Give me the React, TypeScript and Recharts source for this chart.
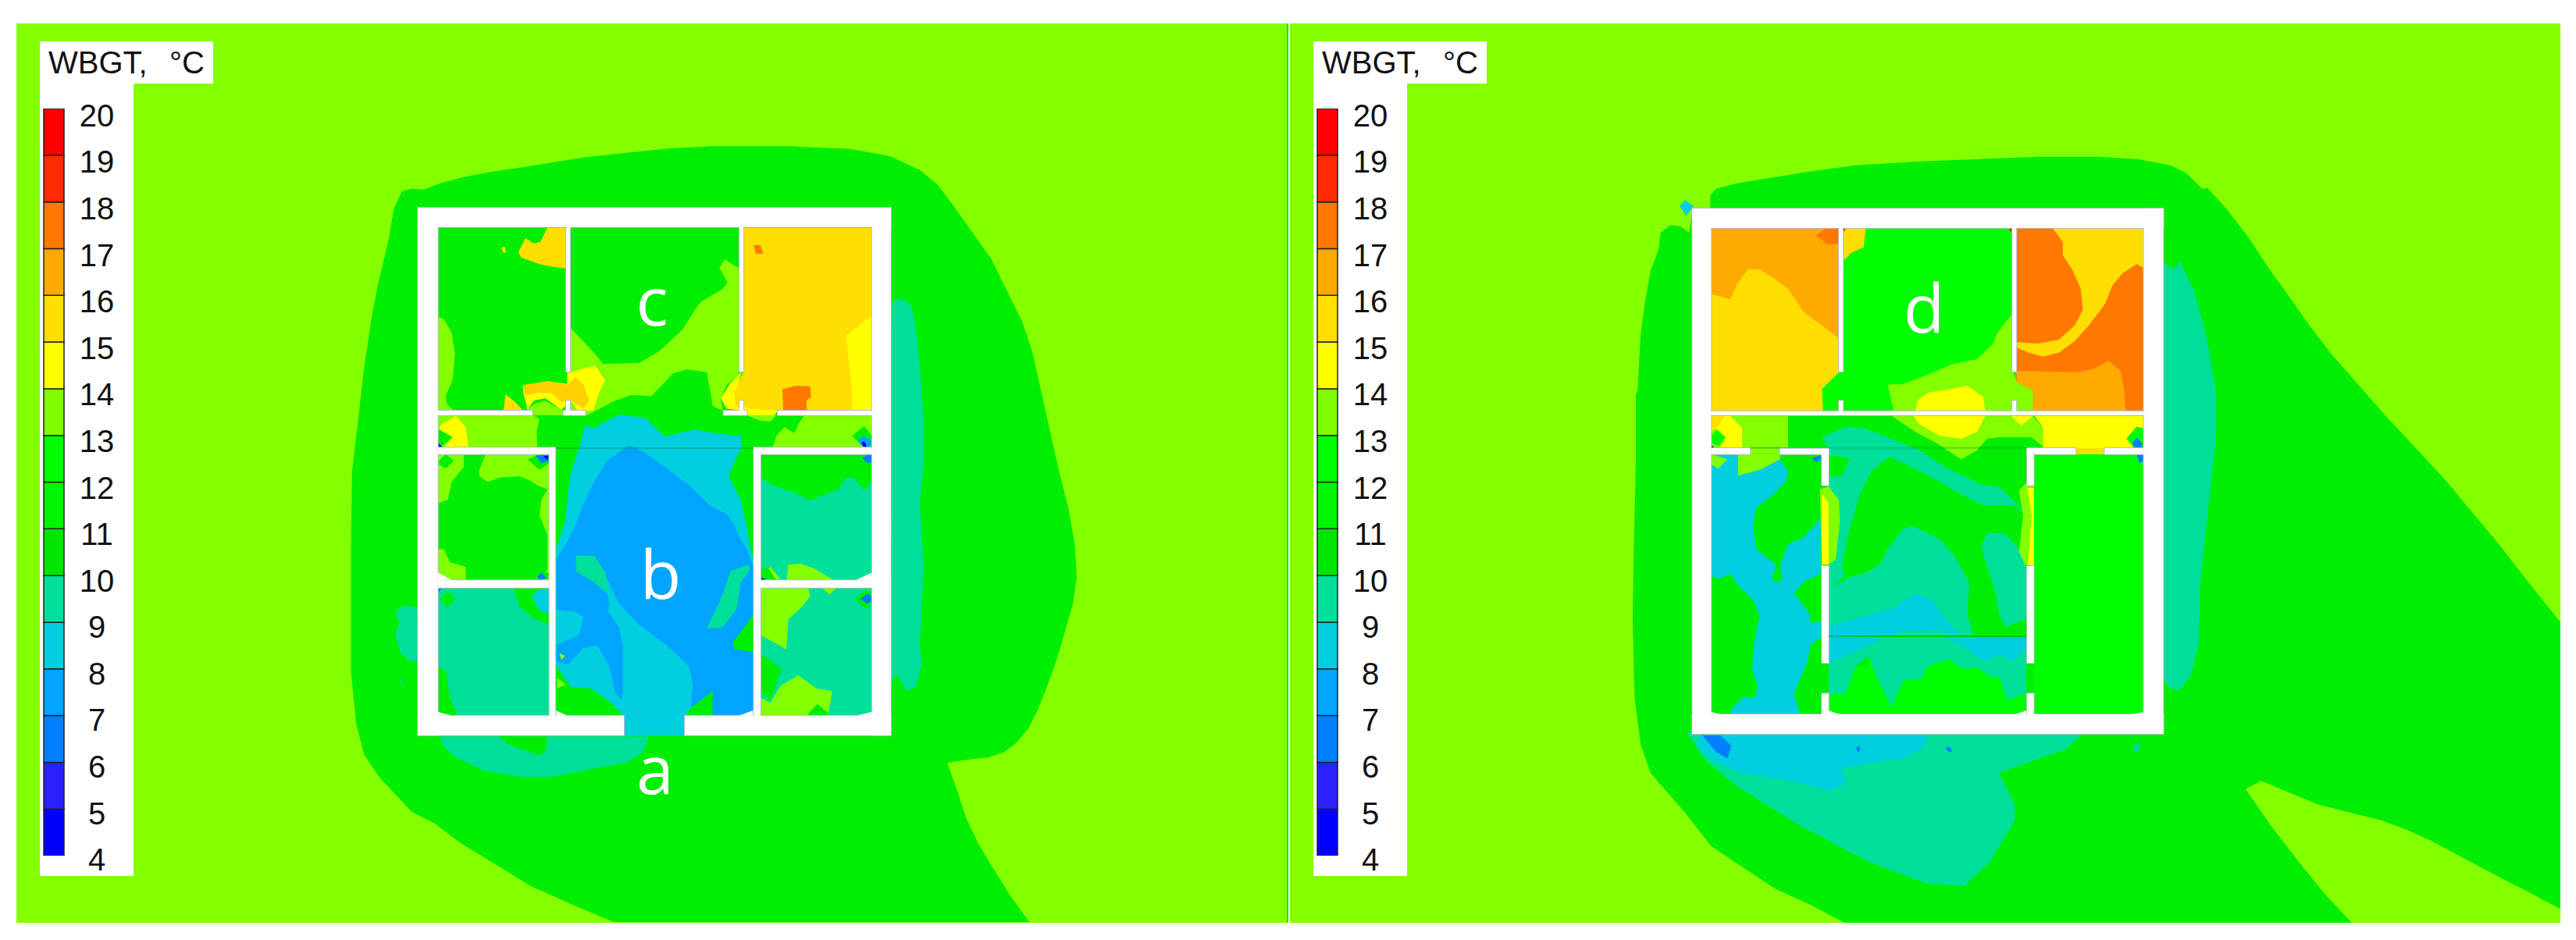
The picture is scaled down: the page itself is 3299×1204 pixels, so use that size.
import { BarChart, Bar, XAxis, YAxis, ScatterChart, Scatter } from 'recharts';

// WBGT levels, bottom to top of the colour bar
const levelTicks = [4, 5, 6, 7, 8, 9, 10, 11, 12, 13, 14, 15, 16, 17, 18, 19, 20];
const levelColors = [
  '#0000FF', '#2A20FF', '#0080FF', '#00A5FF', '#00CFE0', '#00E09A', '#00E600', '#00F500',
  '#00FF00', '#80FF00', '#FFFF00', '#FFDF00', '#FFAA00', '#FF7800', '#FF2A00', '#FF0000',
];
const legendRow = [{ base: 4, ...Object.fromEntries(levelColors.map((_, i) => [`l${i}`, 1])) }];

const LG = '#84FF00';
const DG = '#00EE00';
const BG = '#00FF00';
const TEAL = '#00E09A';
const CYAN = '#00CFE0';
const BLUE = '#00A5FF';
const B7 = '#0080FF';
const B5 = '#0000FF';
const YEL = '#FFFF00';
const C16 = '#FFDF00';
const C17 = '#FFAA00';
const C18 = '#FF7800';
const RED = '#FF0000';
const WHITE = '#FFFFFF';

const crop = (x0: number, y0: number, sx: number, sy: number) => (flat: number[]) => {
  const out: { x: number; y: number }[] = [];
  for (let i = 0; i < flat.length; i += 2) out.push({ x: x0 + flat[i] / sx, y: y0 + flat[i + 1] / sy });
  return out;
};
const lTop = crop(400, 170, 1.96, 3);
const lLow = crop(400, 560, 1.96, 3);
const lFull = crop(400, 150, 1.2544, 1.4933);
const rTop = crop(2050, 170, 1.96, 3);
const rLow = crop(2050, 560, 1.96, 3);
const rFull = crop(2030, 150, 1.2356, 1.4877);
const box = (a: number, b: number, c: number, d: number) => [a, b, c, b, c, d, a, d];

type Layer = [string, { x: number; y: number }[]];

// ---------- left panel ----------
const leftBlobTop = [100,1300,115,1100,130,900,150,700,165,580,190,420,205,290,225,225,250,215,280,218,320,195,380,170,450,150,540,130,600,115,680,95,800,75,900,60,1000,52,1200,52,1350,62,1450,90,1520,140];
const leftBlobEast = [975,100,1005,130,1030,170,1060,220,1090,270,1115,330,1140,390,1157,450,1170,520,1185,600,1200,680,1215,750,1225,820,1228,880,1222,930,1210,980,1195,1040,1180,1090,1165,1135,1150,1170,1130,1198,1110,1215,1085,1225,1060,1228,1020,1235,1035,1285,1050,1340,1070,1390,1090,1430,1120,1487,1152,1540,485,1540,415,1505,350,1470,295,1430,240,1390,195,1350];
const leftBlobWest = [250,1440,170,1310,130,1220,110,1100,97,900,97,400,100,100];
const leftTealEast = [1455,-510,1465,-532,1490,-525,1505,-500,1515,-410,1525,-270,1535,-70,1535,100,1525,250,1535,500,1525,800,1530,870,1515,960,1490,975,1470,915,1452,935];
const leftTealWest = [210,670,230,645,262,655,265,860,245,860,222,830,208,760,218,710];
const leftTealSliver = [215,930,222,932,245,975];
const leftTealSouth = [320,1150,845,1150,830,1210,790,1250,700,1275,600,1305,520,1305,430,1280,360,1230,330,1190];
const leftNotchSouth = [470,1150,590,1150,585,1210,565,1222,510,1190,490,1180];

const nwOrange = [590,365,637,365,637,522,605,515,570,505,525,480,517,460,535,405,555,425,572,420,580,395];
const nwSpot = [475,440,483,438,487,460,478,460];
const nwLight = [315,708,330,715,350,770,358,850,352,950,335,1010,337,1040,355,1068,315,1068];
const nwFoot = [480,1068,485,1005,505,1030,530,1068];
const cLight = [648,750,680,800,715,860,730,888,820,885,870,840,930,755,960,680,975,650,1030,600,1042,575,1022,520,1035,487,1072,522,1072,930,1040,970,1025,1020,1030,1068,1005,1050,990,920,940,910,905,925,852,1012,800,1008,760,1030,690,1085,640,1085,640,918,648,918];
const doorLight = [535,1068,560,1040,585,1030,625,1065,640,1085,550,1085];
const doorYellow = [530,1000,528,975,590,955,640,965,640,925,680,905,710,895,735,950,720,1000,705,1068,665,1068,650,1030,625,1065,585,1020,555,1030,540,1065];
const doorOrange = [528,970,590,955,640,968,660,940,680,965,695,1030,680,1060,650,1030,625,1035,600,1000,560,1000,535,1010];
const neRoom = box(1082, 365, 1405, 1068);
const neYellow = [1405,705,1385,725,1340,780,1355,1000,1355,1068,1405,1068];
const neHot = [1180,985,1215,972,1250,975,1252,1015,1240,1030,1242,1068,1182,1068];
const neSpot = [1108,432,1125,432,1132,465,1113,465];
const neDoorYellow = [1078,918,1048,965,1025,1020,1040,1060,1090,1070,1090,1085,1130,1095,1155,1095,1168,1068,1090,1060,1060,1020];
const neDoorOrange = [1082,918,1060,1000,1062,1050,1082,1068];
const hallWest = [315,1085,555,1085,570,1100,563,1150,565,1210,315,1210];
const hallWestYellow = [360,1088,385,1130,392,1210,330,1210,352,1170,318,1140,325,1120];
const hallWestDiamond = [318,1140,352,1170,325,1205,315,1190];
const hallWestBlue = [315,1190,330,1212,315,1212];
const hallEast = [1235,1085,1405,1085,1405,1210,1155,1210,1165,1165,1185,1130,1210,1155,1220,1120];
const hallEastDiamond = [1355,1165,1385,1128,1405,1165,1405,1210,1385,1212];
const hallEastBlue = [1368,1180,1385,1165,1405,1185,1398,1210,1385,1212];
const hallEastDeep = [1378,1192,1385,1185,1392,1205,1385,1210];
const hallDoorLight = [1090,1085,1165,1085,1150,1110,1120,1105];

const bCyan = [685,-45,705,-35,770,-87,835,-75,885,-2,960,-30,1010,-15,1075,-5,1078,40,1060,90,1045,150,1075,240,1090,340,1100,430,1108,470,1108,680,1055,790,1060,815,1108,825,1108,1070,1005,1070,1005,975,950,1040,935,1070,935,1145,782,1145,782,1070,750,1020,700,965,650,960,612,880,612,430,635,320,640,230,650,130,670,40];
const bBlue = [795,30,830,55,890,120,950,190,1000,265,1040,295,1060,340,1070,380,1090,430,1100,470,1108,500,1108,680,1055,790,1060,815,1108,825,1108,1070,1005,1070,1005,975,950,1040,955,950,945,880,890,800,820,720,770,640,735,530,705,455,662,455,662,515,700,550,740,600,745,640,742,670,770,730,780,800,780,980,775,1010,760,980,745,880,715,800,680,810,650,860,640,875,612,860,612,800,640,780,670,760,680,690,660,670,612,662,612,470,640,400,660,340,680,260,700,190,740,90];
const bTealEast = [1050,515,1095,490,1098,510,1075,560,1065,660,1030,730,990,735,1020,640,1040,560];
const bTealWest = [662,455,708,455,735,520,745,600,700,550,662,515];
const bSpotA = [615,925,635,950,615,965];
const bSpotB = [620,830,635,840,625,855];

const swUpperRoom = box(315, 65, 595, 550);
const swUpperDark = [380,65,435,65,418,130,420,150,440,172,470,155,520,150,545,165,565,185,590,200,575,240,570,300,590,375,590,510,560,540,590,550,385,550,385,498,345,480,330,430,315,430,315,255,340,240,350,170,380,115];
const swDiamondA = [318,90,335,65,355,90,335,120,318,105];
const swDiamondB = [540,85,570,65,595,65,595,100,570,125];
const swBlueB = [560,70,595,68,595,90,575,100];
const swDeepB = [580,72,593,72,590,88];
const swDiamondC = [548,525,570,505,595,525,590,550,560,550];
const swBlueC = [565,535,575,520,588,540,570,550];
const swLowerRoom = box(315, 580, 595, 1070);
const swLowerDark = [505,580,595,580,595,720,560,700,520,650];
const swLowerCyan = [550,610,570,585,595,585,595,680,570,665];
const swLowerDiamond = [320,620,340,592,360,620,340,655];
const swLowerBlue = [315,600,325,582,315,580];
const swLowerCorner = [315,880,335,900,345,1000,365,1070,315,1070];

const seUpperRoom = box(1125, 65, 1405, 550);
const seUpperDark = [1125,65,1405,65,1405,170,1385,205,1360,155,1340,155,1320,200,1250,242,1205,210,1150,180,1130,160];
const seUpperBlue = [1380,80,1395,65,1405,65,1405,95,1393,100];
const seUpperLight = [1190,550,1195,490,1225,485,1260,505,1310,550];
const seUpperFoot = [1125,510,1150,498,1175,545,1125,550];
const seUpperEdge = [1150,498,1175,545,1165,550,1145,505];
const seUpperDot = [1125,540,1140,545,1125,550];
const seLowerRoom = box(1125, 580, 1405, 1070);
const seLowerLight = [1125,580,1245,580,1250,610,1230,650,1195,700,1190,815,1130,765,1125,765];
const seLowerDark = [1125,838,1145,850,1178,890,1150,1010,1130,985,1125,985];
const seLowerFoot = [1150,1020,1175,955,1220,915,1265,965,1305,975,1295,1070,1240,1070,1125,1070,1125,1000];
const seLowerPeak = [1240,1070,1268,1025,1295,1060,1295,1070];
const seLowerNotch = [1280,580,1315,580,1298,605];
const seLowerDiamond = [1362,620,1390,585,1405,600,1405,635,1390,660];
const seLowerBlue = [1375,620,1395,600,1405,615,1405,630,1392,640];

const leftCorners = [
  [315,520,350,548,315,550],[315,1055,350,1070,315,1070],[612,1050,640,1070,612,1070],
  [1070,1070,1106,1050,1106,1070],[1365,548,1405,520,1405,550],[1365,1070,1405,1055,1405,1070],
];
const leftWallsLow = [
  [265,-882,1452,-808],[265,-882,315,1145],[1405,-882,1452,1145],[265,1070,782,1145],[935,1070,1452,1145],
  [315,40,610,65],[1108,40,1405,65],[595,40,610,1070],[1108,40,1125,1070],[315,550,595,578],[1125,550,1405,578],
];
const leftWallsTop = [
  [637,362,647,918],[1072,362,1082,918],[637,1030,647,1070],[1072,1030,1082,1070],
  [315,1068,552,1085],[630,1068,685,1085],[1032,1068,1090,1085],[1168,1068,1405,1085],
];

const leftLayers: Layer[] = [
  [DG, [...lTop(leftBlobTop), ...lFull(leftBlobEast), ...lLow(leftBlobWest)]],
  [TEAL, lLow(leftTealEast)],
  [TEAL, lLow(leftTealWest)],
  [TEAL, lLow(leftTealSliver)],
  [TEAL, lLow(leftTealSouth)],
  [DG, lLow(leftNotchSouth)],
  [DG, lTop(box(315, 365, 1405, 1250))],
  [DG, lLow(box(610, 50, 1108, 1070))],
  [C16, lTop(nwOrange)],
  [C16, lTop(nwSpot)],
  [LG, lTop(nwLight)],
  [C16, lTop(nwFoot)],
  [LG, lTop(cLight)],
  [LG, lTop(doorLight)],
  [YEL, lTop(doorYellow)],
  ['#FFD000', lTop(doorOrange)],
  [C16, lTop(neRoom)],
  [YEL, lTop(neYellow)],
  [C18, lTop(neHot)],
  [C18, lTop(neSpot)],
  [YEL, lTop(neDoorYellow)],
  [C16, lTop(neDoorOrange)],
  [LG, lTop(hallWest)],
  [YEL, lTop(hallWestYellow)],
  [DG, lTop(hallWestDiamond)],
  [B5, lTop(hallWestBlue)],
  [LG, lTop(hallEast)],
  [LG, lTop(hallDoorLight)],
  [DG, lTop(hallEastDiamond)],
  [BLUE, lTop(hallEastBlue)],
  [B5, lTop(hallEastDeep)],
  [CYAN, lLow(bCyan)],
  [BLUE, lLow(bBlue)],
  [TEAL, lLow(bTealEast)],
  [TEAL, lLow(bTealWest)],
  [LG, lLow(bSpotA)],
  [LG, lLow(bSpotB)],
  [LG, lLow(swUpperRoom)],
  [DG, lLow(swUpperDark)],
  [DG, lLow(swDiamondA)],
  [DG, lLow(swDiamondB)],
  [B7, lLow(swBlueB)],
  [B5, lLow(swDeepB)],
  [DG, lLow(swDiamondC)],
  [B7, lLow(swBlueC)],
  [TEAL, lLow(swLowerRoom)],
  [DG, lLow(swLowerDark)],
  [CYAN, lLow(swLowerCyan)],
  [DG, lLow(swLowerDiamond)],
  [B7, lLow(swLowerBlue)],
  [DG, lLow(swLowerCorner)],
  [TEAL, lLow(seUpperRoom)],
  [DG, lLow(seUpperDark)],
  [B7, lLow(seUpperBlue)],
  [LG, lLow(seUpperLight)],
  [DG, lLow(seUpperFoot)],
  [LG, lLow(seUpperEdge)],
  [B5, lLow(seUpperDot)],
  [TEAL, lLow(seLowerRoom)],
  [LG, lLow(seLowerLight)],
  [DG, lLow(seLowerDark)],
  [LG, lLow(seLowerFoot)],
  [DG, lLow(seLowerPeak)],
  [LG, lLow(seLowerNotch)],
  [DG, lLow(seLowerDiamond)],
  [B7, lLow(seLowerBlue)],
];
const leftWalls = [
  ...leftWallsLow.map((w) => lLow(box(w[0], w[1], w[2], w[3]))),
  ...leftWallsTop.map((w) => lTop(box(w[0], w[1], w[2], w[3]))),
];
const leftFinish: Layer[] = [
  ...leftCorners.map((c): Layer => [WHITE, lLow(c)]),
  ['#00803C55', lTop(box(610, 1209, 1108, 1215))],
  [DG, crop(0, 0, 1, 1)(box(1648, 30, 1650, 1182))],
];

// ---------- right panel ----------
const rightBlobTop = [230,290,275,290,275,240,290,215,340,195,420,175,520,150,640,125,800,110,970,100,1100,92,1250,92,1350,102,1430,125,1470,155,1510,215];
const rightBlobEast = [985,135,1015,175,1050,230,1080,285,1110,335,1145,395,1180,450,1220,505,1260,560,1310,625,1360,690,1405,755,1450,820,1495,890,1545,965,1545,1510,1495,1478,1450,1450,1395,1415,1340,1380,1300,1358,1260,1340,1210,1325,1160,1310,1110,1285,1070,1265,1045,1280,1085,1350,1130,1420,1170,1480,1213,1535,410,1535,355,1500,300,1470,250,1430,200,1390];
const rightBlobWest = [210,1440,125,1290,100,1180,85,1000,80,700,82,500,88,100,88,-170,92,-170,100,-390,110,-510,125,-640,145,-720,150,-785,175,-815,200,-810,222,-785];
const rightSpecNw = [150,170,158,158,172,170,165,180,160,188];
const rightTealEast = [1412,-675,1435,-645,1455,-675,1465,-640,1490,-560,1520,-390,1545,-170,1545,0,1530,200,1505,560,1500,800,1480,920,1450,975,1430,965,1412,935];
const rightTealSouth = [160,1172,790,1172,760,1205,700,1230,655,1250,680,1310,680,1340,640,1420,600,1465,540,1460,450,1420,340,1350,240,1275,190,1225];
const rightCyanSouth = [250,1145,820,1145,810,1190,760,1235,700,1245,650,1260,605,1270,615,1330,575,1360,480,1320,350,1290,280,1240,240,1185];
const rightBlueSouth = [255,1145,300,1145,328,1185,318,1235,290,1210];
const rightDropA = [640,1195,650,1185,652,1205,645,1210];
const rightDropB = [865,1195,875,1188,883,1205,875,1212];
const rightDropC = [1335,1190,1355,1175,1345,1210];

const nwWarm = box(277, 366, 598, 1068);
const nwMild = [277,620,325,640,345,575,370,525,400,525,440,565,470,600,510,690,598,790,598,1068,277,1068];
const nwHot = [540,395,565,368,598,368,598,425,570,430];
const nwGreen = [600,918,555,985,558,1068,598,1068];
const dCorner = [610,368,665,368,660,440,630,460,610,490];
const dLight = [1033,695,995,770,985,810,945,870,880,890,820,930,760,965,720,968,735,1068,1085,1068,1085,990,1045,960,1035,918,1033,918];
const dYellow = [790,1068,795,1030,820,1000,880,985,920,972,960,1015,965,1068];
const dRedA = [1025,368,1033,368,1033,390];
const dRedB = [608,368,615,368,608,385];
const neBase = box(1043, 366, 1363, 1068);
const neCurve = [1135,368,1363,368,1363,520,1345,505,1310,540,1285,585,1265,660,1225,740,1190,800,1150,845,1110,860,1075,845,1043,825,1043,805,1100,810,1150,795,1190,740,1210,680,1205,600,1185,530,1160,470,1160,420];
const neLower = [1043,915,1200,920,1240,905,1275,875,1305,915,1315,1000,1317,1068,1085,1068,1085,990,1045,960];
const rHallWest = [277,1088,495,1088,470,1210,277,1210];
const rHallWestYellow = [277,1088,325,1088,355,1135,355,1210,300,1210,315,1170,285,1135,277,1150];
const rHallWestTop = [277,1090,310,1090,300,1120,285,1140,277,1135];
const rHallWestDiamond = [277,1165,292,1140,312,1170,295,1205,277,1190];
const rHallWestBlue = [277,1200,290,1215,277,1215];
const rHallMid = box(470, 1088, 1110, 1240);
const rHallLight = [730,1088,960,1088,1030,1088,1085,1090,1110,1130,1110,1205,1080,1170,1000,1170,970,1175,945,1220,905,1255,840,1190,790,1150];
const rHallYellow = [785,1088,965,1088,945,1150,905,1175,850,1165,800,1120];
const rHallYellowB = [1030,1088,1085,1090,1055,1125];
const rHallEast = [1088,1088,1363,1088,1363,1135,1345,1130,1320,1175,1345,1218,1110,1210,1110,1130];
const rHallEastDiamond = [1320,1175,1345,1130,1363,1165,1363,1215,1340,1215];
const rHallEastBlue = [1335,1190,1345,1170,1360,1195,1355,1215,1340,1215];

const midBase = box(555, 40, 1087, 1065);
const midBand = [572,40,555,0,615,-40,660,-35,720,0,800,50,870,120,960,185,1000,190,1040,250,1068,300,1060,290,1040,262,960,262,900,215,850,170,800,130,725,75,680,130,650,220,620,380,605,500,612,530,575,585,572,560];
const midPocket = [572,70,625,80,605,150,572,150];
const midTeal = [572,585,620,540,665,520,700,490,720,430,760,350,785,342,850,390,890,460,925,560,920,680,935,760,905,760,860,690,830,630,790,600,760,640,740,660,572,725];
const midTealEast = [955,420,970,368,1015,370,1045,420,1068,495,1068,700,1040,715,1015,730,1000,680,990,590,970,500];
const midCyan = [572,725,740,655,760,630,790,600,830,625,860,690,905,760,572,765];
const midCrest = [750,748,850,740,900,762,740,762];
const lowTeal = [572,768,1068,768,1068,985,1020,1010,1000,920,990,930,760,935,730,1035,695,930,672,840,640,880,620,990,572,990];
const lowGreen = [572,990,615,985,640,880,670,880,672,840,690,920,730,1037,760,935,805,930,820,880,850,865,875,855,910,890,945,885,985,925,1000,920,1020,1010,1068,985,1068,1065,572,1065];
const lowCyanWest = [572,765,710,770,680,795,600,850,572,865];
const lowCyanEast = [860,768,1068,768,1068,815,1030,862,1005,835,965,860,905,800];

const srWest = box(277, 65, 555, 1065);
const srWestCyan = [277,65,345,65,345,148,400,125,450,85,470,130,465,170,430,225,390,270,383,340,390,430,440,490,430,553,455,553,450,495,470,410,505,390,530,350,552,310,552,525,510,555,485,600,525,680,527,715,552,705,552,770,525,800,520,860,485,985,500,1065,325,1065,330,1040,360,995,385,1005,395,960,380,890,385,790,398,690,385,630,345,570,325,525,295,545,277,530];
const srWestLight = [345,65,450,65,450,85,400,125,345,148];
const srWestDiamond = [277,65,318,85,295,120,277,105];
const srWestBlue = [530,80,552,70,552,90,540,95];
const srEast = box(1087, 65, 1363, 1065);
const srEastBlue = [1345,65,1363,65,1363,90,1352,100];
const gapWestLight = [550,200,572,190,598,240,600,330,590,470,572,490,555,490];
const gapWestYellow = [555,215,572,255,572,490,555,490];
const gapEastLight = [1050,205,1068,175,1087,175,1087,495,1065,490,1050,440,1060,300];
const gapEastYellow = [1070,195,1087,195,1087,495,1072,490,1082,300];
const openingLight = box(375, 42, 450, 65);
const openingYellow = box(1192, 42, 1265, 65);

const rightWallsLow = [
  [230,-878,1412,-804],[230,-878,277,1140],[1363,-878,1412,1140],[230,1065,1412,1140],
  [277,42,375,65],[450,42,572,65],[1070,42,1192,65],[1265,42,1363,65],
  [555,42,572,185],[555,495,572,868],[555,985,572,1065],[1070,42,1087,185],[1070,495,1087,868],[1070,985,1087,1065],
];
const rightWallsTop = [
  [598,366,608,918],[1033,366,1043,918],[598,1030,608,1070],[1033,1030,1043,1070],[277,1070,1363,1085],
];
const rightCorners = [
  [572,1050,600,1065,572,1065],[1040,1065,1068,1050,1068,1065],[277,1055,300,1065,277,1065],[1335,1065,1363,1055,1363,1065],
];

const rightLayers: Layer[] = [
  [DG, [...rTop(rightBlobTop), ...rFull(rightBlobEast), ...rLow(rightBlobWest)]],
  [TEAL, rLow(rightTealEast)],
  [TEAL, rFull(rightTealSouth)],
  [CYAN, rFull(rightSpecNw)],
  [CYAN, rLow(rightCyanSouth)],
  [B7, rLow(rightBlueSouth)],
  [B7, rLow(rightDropA)],
  [B7, rLow(rightDropB)],
  [CYAN, rLow(rightDropC)],
  [BG, rTop(box(277, 366, 1363, 1240))],
  [C17, rTop(nwWarm)],
  [C16, rTop(nwMild)],
  [C18, rTop(nwHot)],
  [BG, rTop(nwGreen)],
  [C16, rTop(dCorner)],
  [C18, rTop(neBase)],
  [C16, rTop(neCurve)],
  [C17, rTop(neLower)],
  [LG, rTop(dLight)],
  [YEL, rTop(dYellow)],
  [RED, rTop(dRedA)],
  [RED, rTop(dRedB)],
  [LG, rTop(rHallWest)],
  [DG, rTop(rHallMid)],
  [YEL, rTop(rHallWestYellow)],
  [C16, rTop(rHallWestTop)],
  [BG, rTop(rHallWestDiamond)],
  [B5, rTop(rHallWestBlue)],
  [DG, rLow(midBase)],
  [TEAL, rLow(midBand)],
  [DG, rLow(midPocket)],
  [TEAL, rLow(midTeal)],
  [TEAL, rLow(midTealEast)],
  [CYAN, rLow(midCyan)],
  [TEAL, rLow(midCrest)],
  [TEAL, rLow(lowTeal)],
  [BG, rLow(lowGreen)],
  [CYAN, rLow(lowCyanWest)],
  [CYAN, rLow(lowCyanEast)],
  [LG, rTop(rHallLight)],
  [YEL, rTop(rHallYellow)],
  [YEL, rTop(rHallYellowB)],
  [YEL, rTop(rHallEast)],
  [BG, rTop(rHallEastDiamond)],
  [B7, rTop(rHallEastBlue)],
  [DG, rLow(srWest)],
  [CYAN, rLow(srWestCyan)],
  [LG, rLow(srWestLight)],
  [LG, rLow(srWestDiamond)],
  [B7, rLow(srWestBlue)],
  [BG, rLow(srEast)],
  [B7, rLow(srEastBlue)],
  [LG, rLow(gapWestLight)],
  [YEL, rLow(gapWestYellow)],
  [LG, rLow(gapEastLight)],
  [YEL, rLow(gapEastYellow)],
  [LG, rLow(openingLight)],
  [C16, rLow(openingYellow)],
];
const rightWalls = [
  ...rightWallsLow.map((w) => rLow(box(w[0], w[1], w[2], w[3]))),
  ...rightWallsTop.map((w) => rTop(box(w[0], w[1], w[2], w[3]))),
];
const rightFinish: Layer[] = [
  ...rightCorners.map((c): Layer => [WHITE, rLow(c)]),
  ['#00803C55', rLow(box(375, 38, 1070, 44))],
  ['#00803C88', rLow(box(572, 763, 1068, 767))],
];

const leftLabels = [
  { x: 835, y: 417, name: 'c' },
  { x: 846, y: 767, name: 'b' },
  { x: 839, y: 1017, name: 'a' },
];
const rightLabels = [{ x: 2464, y: 426, name: 'd' }];

const noDot = () => <g />;
const filled = (color: string, stroke?: string) => (p: any) => (
  <polygon
    points={p.points.map((q: any) => `${q.x},${q.y}`).join(' ')}
    fill={color}
    stroke={stroke ?? 'none'}
    strokeWidth={stroke ? 2 : 0}
  />
);
const letter = (p: any) => (
  <text x={p.cx} y={p.cy} fill="#fff" fontSize={86} fontFamily="'Open Sans'" textAnchor="middle">
    {p.payload.name}
  </text>
);

function Panel({ left, right, layers, walls, finish, labels }: any) {
  const width = right - left;
  return (
    <div style={{ position: 'absolute', left, top: 30, width, height: 1152, overflow: 'hidden', background: LG }}>
      <ScatterChart width={width} height={1152} margin={{ top: 0, right: 0, bottom: 0, left: 0 }}>
        <XAxis type="number" dataKey="x" domain={[left, right]} allowDataOverflow hide />
        <YAxis type="number" dataKey="y" domain={[30, 1182]} reversed allowDataOverflow hide />
        {layers.map(([color, pts]: Layer, i: number) => (
          <Scatter key={`c${i}`} data={pts} shape={noDot} line={filled(color)} isAnimationActive={false} />
        ))}
        {/* walls twice: grey edge first, then clean white so joints don't show */}
        {walls.map((pts: any, i: number) => (
          <Scatter key={`e${i}`} data={pts} shape={noDot} line={filled(WHITE, '#B4BEBE')} isAnimationActive={false} />
        ))}
        {walls.map((pts: any, i: number) => (
          <Scatter key={`w${i}`} data={pts} shape={noDot} line={filled(WHITE)} isAnimationActive={false} />
        ))}
        {finish.map(([color, pts]: Layer, i: number) => (
          <Scatter key={`f${i}`} data={pts} shape={noDot} line={filled(color)} isAnimationActive={false} />
        ))}
        <Scatter data={labels} shape={letter} isAnimationActive={false} />
      </ScatterChart>
    </div>
  );
}

const LegendTick = (p: any) => (
  <text
    x={73}
    y={p.y + 21 + (p.payload.value - 12) * 0.22}
    textAnchor="middle"
    fontSize={40}
    fill="#111"
    fontFamily="'Liberation Sans'"
  >
    {p.payload.value}
  </text>
);

function ColorLegend({ left }: { left: number }) {
  return (
    <>
      <div
        style={{
          position: 'absolute', left, top: 53, width: 222, height: 54, background: '#fff', color: '#111',
          fontFamily: "'Liberation Sans'", fontSize: 40, lineHeight: '54px', paddingLeft: 11, boxSizing: 'border-box',
          whiteSpace: 'pre', wordSpacing: 3,
        }}
      >
        {'WBGT,  °C'}
      </div>
      <div style={{ position: 'absolute', left, top: 107, width: 120, height: 1015, background: '#fff' }} />
      <div style={{ position: 'absolute', left, top: 108 }}>
        <BarChart width={120} height={1014} data={legendRow} margin={{ top: 31, right: 0, bottom: 26, left: 5 }} barCategoryGap={0}>
          <XAxis hide />
          <YAxis
            type="number"
            orientation="right"
            width={89}
            domain={[4, 20]}
            ticks={levelTicks}
            interval={0}
            allowDataOverflow
            axisLine={false}
            tickLine={false}
            tick={LegendTick}
          />
          <Bar dataKey="base" stackId="bar" fill="none" stroke="none" isAnimationActive={false} />
          {levelColors.map((c, i) => (
            <Bar key={c} dataKey={`l${i}`} stackId="bar" fill={c} stroke="#222" strokeWidth={1.5} isAnimationActive={false} />
          ))}
        </BarChart>
      </div>
    </>
  );
}

export default function App() {
  return (
    <div style={{ position: 'absolute', left: 0, top: 0, width: 3299, height: 1204, background: '#fff', overflow: 'hidden' }}>
      <Panel left={21} right={1650} layers={leftLayers} walls={leftWalls} finish={leftFinish} labels={leftLabels} />
      <Panel left={1652} right={3279} layers={rightLayers} walls={rightWalls} finish={rightFinish} labels={rightLabels} />
      <ColorLegend left={51} />
      <ColorLegend left={1682} />
    </div>
  );
}
